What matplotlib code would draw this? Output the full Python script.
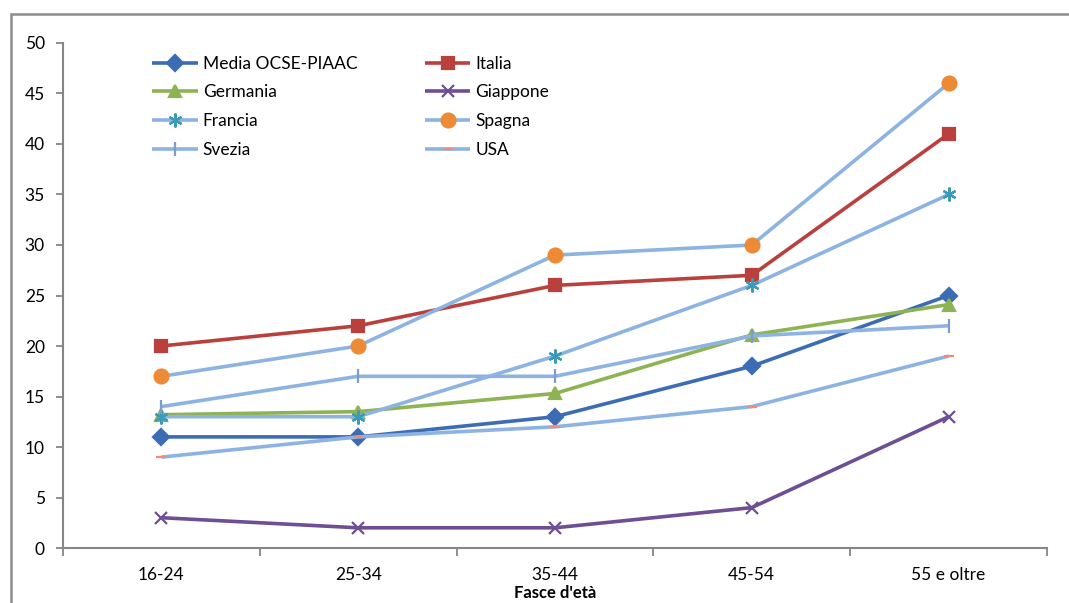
import matplotlib
matplotlib.use("Agg")
import matplotlib.pyplot as plt
from matplotlib.patches import Rectangle

plt.rcParams["font.family"] = ["Lato", "DejaVu Sans"]

categories = ["16-24", "25-34", "35-44", "45-54", "55 e oltre"]

media_ocse = [11, 11, 13, 18, 25]
italia = [20, 22, 26, 27, 41]
germania = [13.2, 13.5, 15.3, 21.1, 24.1]
giappone = [3, 2, 2, 4, 13]
francia = [13, 13, 19, 26, 35]
spagna = [17, 20, 29, 30, 46]
svezia = [14, 17, 17, 21, 22]
usa = [9, 11, 12, 14, 19]

LIGHT = "#8db3e2"

# label, values, line colour, marker, marker colour, marker size
series = [
    ("Media OCSE-PIAAC", media_ocse, "#3c6cb4", "D", "#3c6cb4", 8),
    ("Italia", italia, "#b9403c", "s", "#b9403c", 9),
    ("Germania", germania, "#8db352", "^", "#8db352", 9),
    ("Giappone", giappone, "#6e4f93", "x", "#6e4f93", 9),
    ("Francia", francia, LIGHT, (6, 2, 0), "#3a9ab8", 10),
    ("Spagna", spagna, LIGHT, "o", "#ec8a36", 10),
    ("Svezia", svezia, LIGHT, "|", "#7c9ccc", 10),
    ("USA", usa, LIGHT, "_", "#ee8c7c", 7),
]

fig = plt.figure(figsize=(10.69, 6.03), dpi=100)
ax = fig.add_axes([0.0589, 0.0912, 0.9205, 0.8375])

x = list(range(len(categories)))
handles = []
for label, vals, lc, mk, mc, ms in series:
    h, = ax.plot(x, vals, color=lc, lw=2.6, marker=mk, markersize=ms,
                 markerfacecolor=mc, markeredgecolor=mc, markeredgewidth=1.6,
                 label=label, solid_capstyle="butt")
    handles.append(h)

ax.set_xlim(-0.5, len(categories) - 0.5)
ax.set_ylim(0, 50)
ax.set_yticks(range(0, 51, 5))
ax.set_xticks(x)
ax.set_xticklabels(categories)
ax.set_xticks([i - 0.5 for i in range(len(categories) + 1)], minor=True)
ax.tick_params(axis="x", which="major", length=0, pad=14, labelsize=12.5)
ax.tick_params(axis="x", which="minor", length=6, width=1.3, color="#868686")
ax.tick_params(axis="y", length=5, width=1.3, color="#868686", pad=8,
               labelsize=12.5)

for side in ["top", "right"]:
    ax.spines[side].set_visible(False)
for side in ["left", "bottom"]:
    ax.spines[side].set_color("#868686")
    ax.spines[side].set_linewidth(1.5)

ax.set_xlabel("Fasce d'età", fontsize=12, fontweight="bold", labelpad=1)

# legend reads row by row: reorder for matplotlib's column filling
order = handles[0::2] + handles[1::2]
ax.legend(handles=order, loc="upper left", bbox_to_anchor=(0.075, 1.006),
          ncol=2, frameon=False, fontsize=12.5, handlelength=2.6,
          handletextpad=0.3, labelspacing=0.74, columnspacing=3.9)

# grey frame round the chart area
fig.patches.append(Rectangle((11 / 1069, -0.05), 1.1, 0.05 + (1 - 14 / 603),
                             transform=fig.transFigure, fill=False,
                             edgecolor="#8c8c8c", lw=1.8))

fig.savefig("out.png", dpi=100)
